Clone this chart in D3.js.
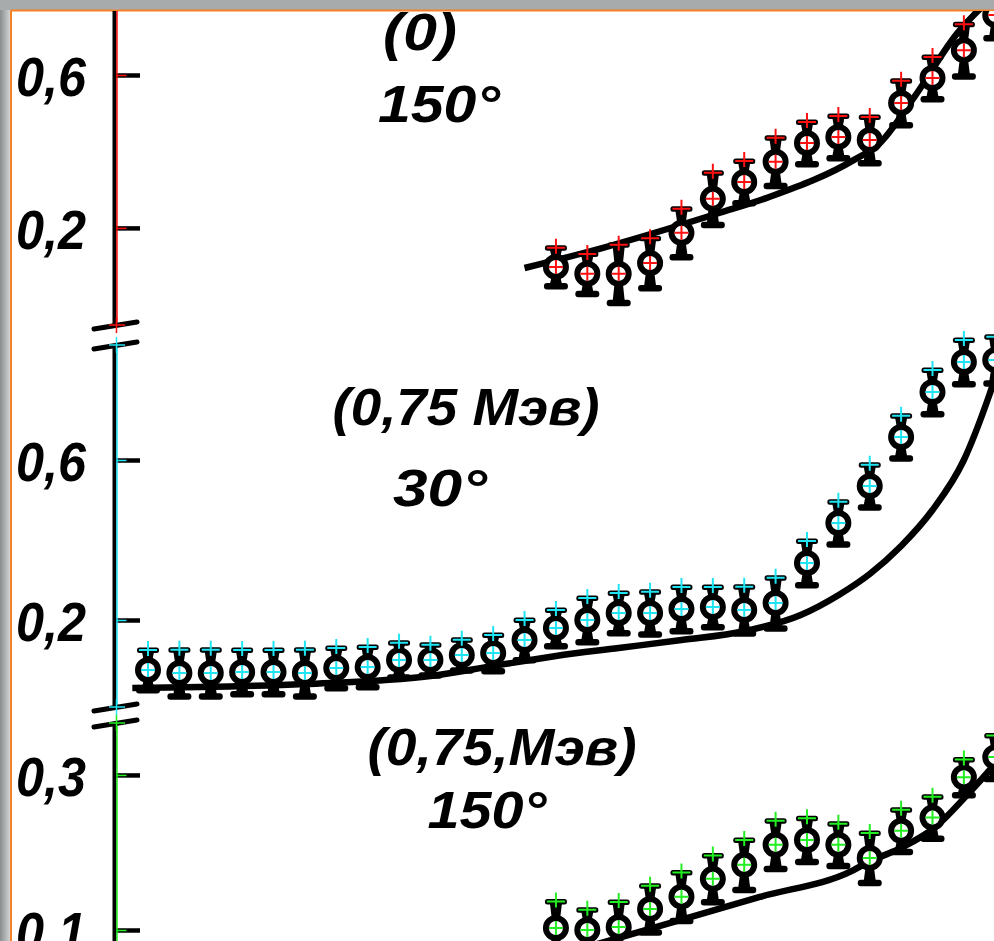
<!DOCTYPE html>
<html>
<head>
<meta charset="utf-8">
<script src="https://cdn.jsdelivr.net/npm/d3@7"></script>
<style>
	body { margin: 0; padding: 0; background: #ffffff; overflow: hidden; }
	svg { display: block; }
	.lbl { font-family: "Liberation Sans", sans-serif; font-weight: bold; font-style: italic; fill: #000; }
</style>
</head>
<body>
<div id="chart"></div>
<script>
//Channel numbers (shared x axis, no labels on the original)
var chTop = [13, 14, 15, 16, 17, 18, 19, 20, 21, 22, 23, 24, 25, 26, 27];
var chMid = [0, 1, 2, 3, 4, 5, 6, 7, 8, 9, 10, 11, 12, 13, 14, 15, 16, 17, 18, 19, 20, 21, 22, 23, 24, 25, 26, 27];
var chBot = [13, 14, 15, 16, 17, 18, 19, 20, 21, 22, 23, 24, 25, 26, 27];

//(0) 150° - red
var topVals = [0.098, 0.080, 0.080, 0.108, 0.187, 0.276, 0.320, 0.373, 0.422, 0.438, 0.430, 0.527, 0.592, 0.665, 0.757];
var topErr = [0.050, 0.052, 0.076, 0.065, 0.063, 0.068, 0.055, 0.063, 0.055, 0.055, 0.060, 0.058, 0.055, 0.068, 0.060];
var topCurveX = [12.0, 14.5, 18.2, 19.8, 22.5, 23.3, 24.4, 25.8, 26.6, 27.3];
var topCurveY = [0.095, 0.148, 0.239, 0.281, 0.378, 0.420, 0.540, 0.710, 0.780, 0.830];

//(0,75 Мэв) 30° - cyan
var midVals = [0.075, 0.0675, 0.0675, 0.070, 0.070, 0.0675, 0.080, 0.0825, 0.100, 0.100, 0.1125, 0.1175, 0.150, 0.180, 0.200, 0.2175, 0.2175, 0.2275, 0.2325, 0.225, 0.2425, 0.3425, 0.4425, 0.535, 0.6575, 0.770, 0.845, 0.850];
var midErr = [0.050, 0.058, 0.058, 0.055, 0.055, 0.058, 0.050, 0.050, 0.043, 0.038, 0.038, 0.045, 0.050, 0.045, 0.055, 0.050, 0.053, 0.055, 0.050, 0.058, 0.063, 0.055, 0.053, 0.053, 0.053, 0.055, 0.055, 0.058];
var midCurveX = [-0.5, 5, 9, 11, 13, 15, 17, 19, 20.8, 22, 23, 24, 25, 26, 26.8, 27.5];
var midCurveY = [0.030, 0.040, 0.060, 0.085, 0.110, 0.130, 0.150, 0.172, 0.2125, 0.262, 0.315, 0.385, 0.475, 0.600, 0.760, 0.930];

//(0,75,Мэв) 150° - green
var botVals = [0.1026, 0.100, 0.104, 0.127, 0.143, 0.166, 0.184, 0.210, 0.216, 0.210, 0.193, 0.228, 0.245, 0.297, 0.323];
var botErr = [0.034, 0.026, 0.032, 0.030, 0.031, 0.030, 0.032, 0.031, 0.028, 0.027, 0.032, 0.027, 0.027, 0.023, 0.028];
var botCurveX = [13.3, 16.1, 19.5, 22.47, 22.98, 24.0, 25.1, 26.1, 26.9, 27.5];
var botCurveY = [0.070, 0.1026, 0.1426, 0.177, 0.188, 0.206, 0.233, 0.274, 0.310, 0.340];

var width = 994;
var height = 941;
var axisX = 114;

var svg = d3.select('#chart')
	.append('svg')
	.attr('width', width)
	.attr('height', height);

//grey window frame + orange border
var defs = svg.append('defs');
var grad = defs.append('linearGradient').attr('id', 'leftGrey').attr('x1', 0).attr('x2', 1).attr('y1', 0).attr('y2', 0);
grad.append('stop').attr('offset', '0%').attr('stop-color', '#8a8d8d');
grad.append('stop').attr('offset', '100%').attr('stop-color', '#d6dada');
defs.append('clipPath').attr('id', 'paper')
	.append('rect').attr('x', 12).attr('y', 11).attr('width', width - 12).attr('height', height - 11);

svg.append('rect').attr('width', width).attr('height', height).attr('fill', '#ffffff');
svg.append('rect').attr('width', width).attr('height', 10).attr('fill', '#a7abab');
svg.append('rect').attr('y', 10).attr('width', 11).attr('height', height).attr('fill', 'url(#leftGrey)');
svg.append('line').attr('x1', 11).attr('x2', width).attr('y1', 10.5).attr('y2', 10.5).attr('stroke', '#f58025').attr('stroke-width', 2);
svg.append('line').attr('x1', 11).attr('x2', 11).attr('y1', 10).attr('y2', height).attr('stroke', '#f58025').attr('stroke-width', 2);

var g = svg.append('g').attr('clip-path', 'url(#paper)');

//Scales
var x = d3.scaleLinear().domain([0, 27]).range([148, 148 + 27 * 31.38]);

var panels = [
	{ name: 'top', color: '#ff1010', y: d3.scaleLinear().domain([-0.054, 0.77]).range([325, 10]), ticks: [0.2, 0.6],
	  ch: chTop, vals: topVals, err: topErr, cx: topCurveX, cy: topCurveY, breakTop: false, breakBottom: true },
	{ name: 'mid', color: '#1ee4f4', y: d3.scaleLinear().domain([-0.0175, 0.8875]).range([707, 345]), ticks: [0.2, 0.6],
	  ch: chMid, vals: midVals, err: midErr, cx: midCurveX, cy: midCurveY, breakTop: true, breakBottom: true },
	{ name: 'bot', color: '#22ee22', y: d3.scaleLinear().domain([0.0858, 0.367]).range([941, 723]), ticks: [0.1, 0.3],
	  ch: chBot, vals: botVals, err: botErr, cx: botCurveX, cy: botCurveY, breakTop: true, breakBottom: false }
];

var fmt = function(d) { return d3.format('.1f')(d).replace('.', ','); };

panels.forEach(function(p) {
	//black axis of the scan
	var ax = g.append('g')
		.attr('class', 'y axis ' + p.name)
		.attr('transform', 'translate(' + axisX + ',0)')
		.call(d3.axisLeft(p.y).tickValues(p.ticks).tickSizeInner(-26).tickSizeOuter(0).tickPadding(28).tickFormat(fmt));
	ax.select('.domain').attr('stroke', '#000').attr('stroke-width', 4);
	ax.selectAll('.tick line').attr('stroke', '#000').attr('stroke-width', 4.5);
	ax.selectAll('.tick text')
		.attr('class', 'lbl')
		.attr('font-size', 56)
		.attr('dy', '0.36em')
		.attr('textLength', 70)
		.attr('lengthAdjust', 'spacingAndGlyphs');

	//coloured overlay of the digitised axis
	var ov = g.append('g')
		.attr('transform', 'translate(' + (axisX + 2.5) + ',0)')
		.call(d3.axisLeft(p.y).tickValues(p.ticks).tickSizeInner(-10).tickSizeOuter(0).tickFormat(''));
	ov.select('.domain').attr('stroke', p.color).attr('stroke-width', 1.5);
	ov.selectAll('.tick line').attr('stroke', p.color).attr('stroke-width', 1.5);

	//axis breaks
	var ends = [];
	if (p.breakBottom) ends.push(p.y.range()[0]);
	if (p.breakTop) ends.push(p.y.range()[1]);
	ends.forEach(function(e) {
		g.append('line')
			.attr('x1', axisX - 20).attr('y1', e + 4)
			.attr('x2', axisX + 23).attr('y2', e - 3)
			.attr('stroke', '#000').attr('stroke-width', 5).attr('stroke-linecap', 'round');
		g.append('path')
			.attr('d', 'M' + (axisX - 5) + ',' + e + 'h16M' + (axisX + 2.5) + ',' + (e - 8) + 'v16')
			.attr('stroke', p.color).attr('stroke-width', 1.5).attr('fill', 'none');
	});

	//theory curve
	var line = d3.line()
		.x(function(d) { return x(d[0]); })
		.y(function(d) { return p.y(d[1]); })
		.curve(d3.curveMonotoneX);
	g.append('path')
		.datum(d3.zip(p.cx, p.cy))
		.attr('d', line)
		.attr('fill', 'none')
		.attr('stroke', '#000')
		.attr('stroke-width', 6.5)
		.attr('stroke-linecap', 'butt');

	//measured points with error bars
	var pts = g.selectAll('.pt.' + p.name)
		.data(d3.zip(p.ch, p.vals, p.err))
		.enter()
		.append('g')
		.attr('class', 'pt ' + p.name)
		.attr('transform', function(d) { return 'translate(' + x(d[0]) + ',' + p.y(d[1]) + ')'; });

	pts.each(function(d) {
		var s = d3.select(this);
		var up = p.y(d[1]) - p.y(d[1] + d[2]);
		var dn = p.y(d[1] - d[2]) - p.y(d[1]);
		s.append('line').attr('y1', -up).attr('y2', dn).attr('stroke', '#000').attr('stroke-width', 4);
		s.append('path')
			.attr('d', 'M-6,' + (-up + 2) + 'L-4,-8L4,-8L6,' + (-up + 2) + 'Z M-6,' + (dn - 2) + 'L-4,8L4,8L6,' + (dn - 2) + 'Z')
			.attr('fill', '#000');
		s.append('rect').attr('x', -11).attr('y', -up - 2.5).attr('width', 22).attr('height', 5.5).attr('rx', 2.5).attr('fill', '#000');
		s.append('rect').attr('x', -12).attr('y', dn - 3).attr('width', 24).attr('height', 6.5).attr('rx', 3).attr('fill', '#000');
		s.append('circle').attr('r', 10).attr('fill', '#fff').attr('stroke', '#000').attr('stroke-width', 6);
		//digitised crosses
		s.append('path')
			.attr('d', 'M-7,0h14M0,-7v14')
			.attr('stroke', p.color).attr('stroke-width', 2).attr('fill', 'none');
		s.append('path')
			.attr('d', 'M-9,' + (-up) + 'h18M0,' + (-up - 9) + 'v15')
			.attr('stroke', p.color).attr('stroke-width', 2).attr('fill', 'none');
	});
});

//panel captions
var captions = [
	{ t: '(0)', x: 420, y: 50, w: 74 },
	{ t: '150°', x: 439, y: 122, w: 122 },
	{ t: '(0,75 Мэв)', x: 466, y: 425, w: 267 },
	{ t: '30°', x: 440, y: 506, w: 94 },
	{ t: '(0,75,Мэв)', x: 502, y: 765, w: 269 },
	{ t: '150°', x: 487, y: 828, w: 119 }
];
g.selectAll('.caption')
	.data(captions)
	.enter()
	.append('text')
	.attr('class', 'lbl caption')
	.attr('x', function(d) { return d.x; })
	.attr('y', function(d) { return d.y; })
	.attr('text-anchor', 'middle')
	.attr('font-size', 52)
	.attr('textLength', function(d) { return d.w; })
	.attr('lengthAdjust', 'spacingAndGlyphs')
	.text(function(d) { return d.t; });
</script>
</body>
</html>
